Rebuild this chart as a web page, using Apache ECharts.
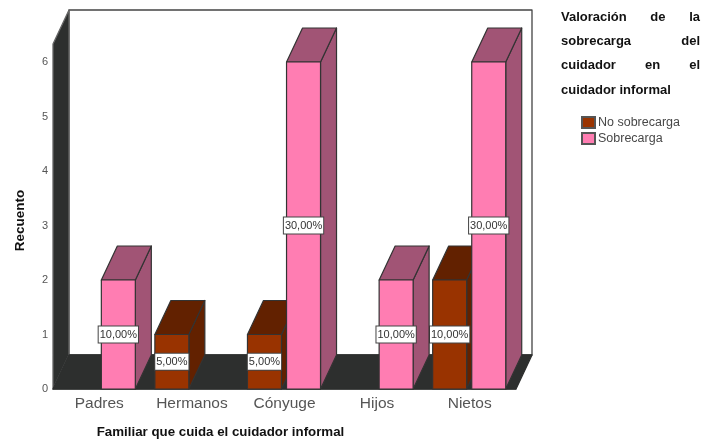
<!DOCTYPE html>
<html>
<head>
<meta charset="utf-8">
<style>
  html, body { margin: 0; padding: 0; background: #fff; }
  #chart { width: 701px; height: 441px; }
</style>
<script src="https://cdn.jsdelivr.net/npm/echarts@6/dist/echarts.min.js"></script>
</head>
<body>
<div id="chart"></div>
<script>
const categories = ['Padres', 'Hermanos', 'Cónyuge', 'Hijos', 'Nietos'];
const noSobrecarga = [0, 1, 1, 0, 2];
const sobrecarga = [2, 0, 6, 2, 6];
const noSobrecargaPct = ['', '5,00%', '5,00%', '', '10,00%'];
const sobrecargaPct = ['10,00%', '', '30,00%', '10,00%', '30,00%'];
const legendTitle = [
  ['Valoración', 'de', 'la'],
  ['sobrecarga', 'del'],
  ['cuidador', 'en', 'el'],
  ['cuidador informal']
];

const FONT = '"Liberation Sans", Arial, sans-serif';
const DEPTH_X = 16, DEPTH_Y = 34;
const WALL = '#2d2f2e', EDGE = '#333';

const chart = echarts.init(document.getElementById('chart'));

// back wall, left wall and floor of the 3D box
function renderWalls(params) {
  const c = params.coordSys;
  const x0 = c.x, x1 = c.x + c.width, y0 = c.y, y1 = c.y + c.height;
  const poly = (points, fill, stroke) => ({
    type: 'polygon', shape: { points: points },
    style: { fill: fill, stroke: stroke, lineWidth: 1.3, lineJoin: 'round' }
  });
  return {
    type: 'group',
    children: [
      poly([[x0 + DEPTH_X, y0 - DEPTH_Y], [x1 + DEPTH_X, y0 - DEPTH_Y], [x1 + DEPTH_X, y1 - DEPTH_Y], [x0 + DEPTH_X, y1 - DEPTH_Y]], '#fff', '#444'),
      poly([[x0, y0], [x0 + DEPTH_X, y0 - DEPTH_Y], [x0 + DEPTH_X, y1 - DEPTH_Y], [x0, y1]], WALL, '#666'),
      poly([[x0, y1], [x0 + DEPTH_X, y1 - DEPTH_Y], [x1 + DEPTH_X, y1 - DEPTH_Y], [x1, y1]], WALL, WALL)
    ]
  };
}

// one 3D bar: front face, top, side, and its percentage box
function barRenderer(startFrac, widthFrac, front, shade, labels) {
  return function (params, api) {
    const value = api.value(1);
    if (!value) return null;
    const band = api.size([1, 0])[0];
    const base = api.coord([api.value(0), 0]);
    const top = api.coord([api.value(0), value]);
    const mid = api.coord([api.value(0), value / 2]);
    const xl = base[0] + band * startFrac;
    const xr = xl + band * widthFrac;
    const face = (points, fill) => ({
      type: 'polygon', shape: { points: points },
      style: { fill: fill, stroke: EDGE, lineWidth: 1.2, lineJoin: 'round' }
    });
    return {
      type: 'group',
      children: [
        face([[xr, top[1]], [xr + DEPTH_X, top[1] - DEPTH_Y], [xr + DEPTH_X, base[1] - DEPTH_Y], [xr, base[1]]], shade),
        face([[xl, top[1]], [xl + DEPTH_X, top[1] - DEPTH_Y], [xr + DEPTH_X, top[1] - DEPTH_Y], [xr, top[1]]], shade),
        face([[xl, top[1]], [xr, top[1]], [xr, base[1]], [xl, base[1]]], front),
        {
          type: 'text', z2: 100,
          style: {
            text: labels[params.dataIndex], x: (xl + xr) / 2, y: mid[1],
            align: 'center', verticalAlign: 'middle',
            font: '11px ' + FONT, fill: '#333',
            backgroundColor: '#fff', borderColor: '#444', borderWidth: 1,
            padding: [3, 1, 2, 1]
          }
        }
      ]
    };
  };
}

// stretch each line of the legend title over the full width, like the justified original
const measure = document.createElement('canvas').getContext('2d');
const titleFont = 'bold 13px ' + FONT;
measure.font = titleFont;
const titleLeft = 561, titleWidth = 139, titleTop = 17, titleStep = 24.4;
const titleWords = [];
legendTitle.forEach((words, row) => {
  const widths = words.map(w => measure.measureText(w).width);
  const gap = words.length > 1 ? (titleWidth - widths.reduce((a, b) => a + b, 0)) / (words.length - 1) : 0;
  let x = titleLeft;
  words.forEach((w, i) => {
    titleWords.push({
      type: 'text', x: x, y: titleTop + row * titleStep,
      style: { text: w, font: titleFont, fill: '#111', verticalAlign: 'middle' }
    });
    x += widths[i] + gap;
  });
});

chart.setOption({
  animation: false,
  backgroundColor: '#fff',
  grid: { left: 53, top: 44, width: 463, height: 345, outerBoundsMode: 'none' },
  xAxis: {
    type: 'category',
    data: categories,
    name: 'Familiar que cuida el cuidador informal',
    nameLocation: 'middle',
    nameGap: 37,
    nameTextStyle: { fontFamily: FONT, fontWeight: 'bold', fontSize: 13.3, color: '#111', padding: [0, 128, 0, 0] },
    axisLine: { lineStyle: { color: '#999' } },
    axisTick: { show: false },
    axisLabel: { fontFamily: FONT, fontSize: 15.5, color: '#555', margin: 7, interval: 0 }
  },
  yAxis: {
    type: 'value',
    min: 0,
    max: 6.33,
    interval: 1,
    name: 'Recuento',
    nameLocation: 'middle',
    nameGap: 26,
    nameTextStyle: { fontFamily: FONT, fontWeight: 'bold', fontSize: 13.5, color: '#111', padding: [0, 8, 0, 0] },
    splitLine: { show: false },
    axisLine: { show: true, lineStyle: { color: '#999' } },
    axisTick: { show: false },
    axisLabel: { fontFamily: FONT, fontSize: 11, color: '#555', margin: 5, padding: [2, 0, 0, 0], showMaxLabel: false }
  },
  legend: {
    orient: 'vertical',
    left: 581,
    top: 116,
    icon: 'rect',
    itemWidth: 13,
    itemHeight: 11,
    itemGap: 3,
    padding: 0,
    data: ['No sobrecarga', 'Sobrecarga'],
    textStyle: { fontFamily: FONT, fontSize: 12.5, color: '#484848', padding: [0, 0, 0, -2] }
  },
  graphic: titleWords,
  series: [
    {
      type: 'custom', silent: true, z: 1,
      renderItem: renderWalls,
      data: [[0, 0]], encode: { x: 0, y: 1 }
    },
    {
      name: 'No sobrecarga', type: 'custom', z: 2,
      itemStyle: { color: '#993300', borderColor: '#555', borderWidth: 1 },
      renderItem: barRenderer(-0.4, 0.367, '#993300', '#622100', noSobrecargaPct),
      data: noSobrecarga.map((v, i) => [i, v]), encode: { x: 0, y: 1 }
    },
    {
      name: 'Sobrecarga', type: 'custom', z: 3,
      itemStyle: { color: '#ff7db2', borderColor: '#555', borderWidth: 1 },
      renderItem: barRenderer(0.022, 0.367, '#ff7db2', '#a15475', sobrecargaPct),
      data: sobrecarga.map((v, i) => [i, v]), encode: { x: 0, y: 1 }
    }
  ]
});
</script>
</body>
</html>
